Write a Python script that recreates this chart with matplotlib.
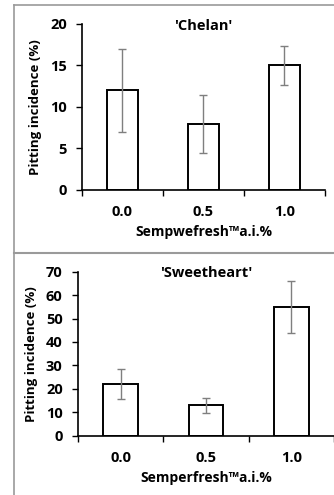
import matplotlib
matplotlib.use("Agg")
from matplotlib import pyplot as plt
from matplotlib.lines import Line2D

plt.rcParams['font.family'] = ['Open Sans', 'DejaVu Sans']
plt.rcParams['font.weight'] = 'bold'

doses = ['0.0', '0.5', '1.0']

chelan = [12, 8, 15]
chelan_err = [5, 3.5, 2.3]

sweetheart = [22, 13, 55]
sweetheart_err = [6.3, 3.2, 11]

fig = plt.figure(figsize=(3.34, 4.95), dpi=100)


def panel(rect, values, errors, title, xlabel, ymax, ystep, width):
    ax = fig.add_axes(rect)
    x = range(len(doses))
    ax.bar(x, values, width=width, color='white', edgecolor='black', linewidth=1.4,
           zorder=2)
    ax.errorbar(x, values, yerr=errors, fmt='none', ecolor='#7f7f7f',
                elinewidth=1, capsize=3, capthick=1, zorder=3)
    ax.set_xlim(-0.5, len(doses) - 0.5)
    ax.set_ylim(0, ymax)
    ax.set_yticks(range(0, ymax + 1, ystep))
    # Excel-style: ticks between categories, labels at centres
    ax.set_xticks([i - 0.5 for i in range(len(doses) + 1)])
    ax.set_xticklabels([])
    ax.set_xticks(list(x), minor=True)
    ax.set_xticklabels(doses, minor=True, fontsize=10.5, fontweight='bold')
    ax.tick_params(axis='x', which='major', direction='out', length=4, width=1)
    ax.tick_params(axis='x', which='minor', length=0, pad=11)
    ax.tick_params(axis='y', direction='out', length=4, width=1, labelsize=10.5,
                   pad=7)
    for lab in ax.get_yticklabels():
        lab.set_fontweight('bold')
    for side in ['top', 'right']:
        ax.spines[side].set_visible(False)
    for side in ['left', 'bottom']:
        ax.spines[side].set_linewidth(1.2)
    ax.text(0.5, 0.99, title, transform=ax.transAxes, ha='center', va='center',
            fontsize=10.5, fontweight='bold')
    ax.set_xlabel(xlabel, fontsize=10, fontweight='bold', labelpad=4)
    ax.set_ylabel('Pitting incidence (%)', fontsize=9.5, fontweight='bold',
                  labelpad=6)
    return ax


panel([0.2455, 0.6162, 0.7275, 0.3354], chelan, chelan_err, "'Chelan'",
      "Sempwefresh\u2122a.i.%", 20, 5, 0.39)
panel([0.2335, 0.1198, 0.7665, 0.3313], sweetheart, sweetheart_err, "'Sweetheart'",
      "Semperfresh\u2122a.i.%", 70, 10, 0.41)

# grey frames around the two panels
frame = '#9a9a9a'
fig.add_artist(Line2D([14 / 334, 14 / 334], [0, 1 - 5 / 495], color=frame, lw=1.2))
fig.add_artist(Line2D([14 / 334, 1], [1 - 5 / 495, 1 - 5 / 495], color=frame, lw=1.2))
fig.add_artist(Line2D([14 / 334, 1], [1 - 253 / 495, 1 - 253 / 495], color=frame, lw=1.5))

fig.savefig('out.png', dpi=100)
